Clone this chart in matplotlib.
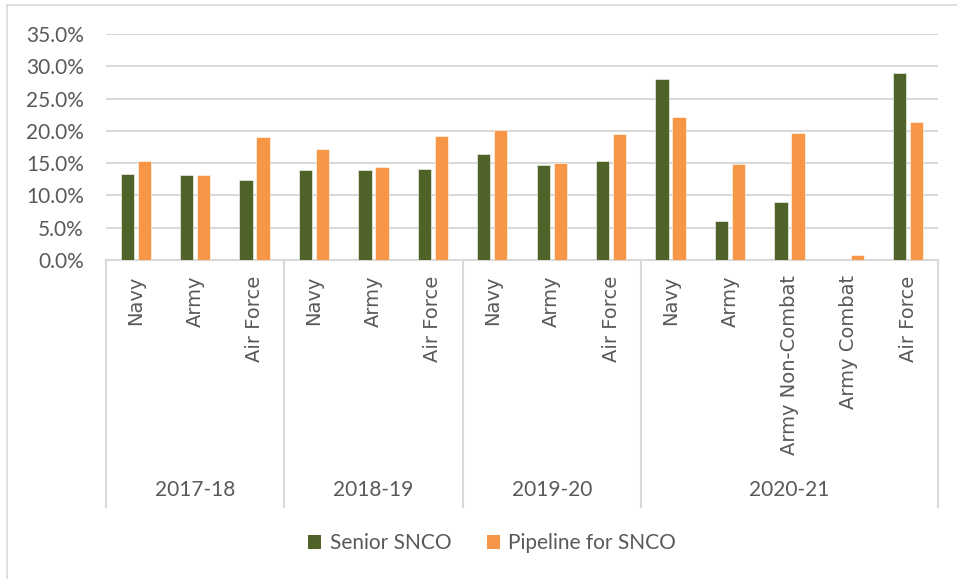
import matplotlib
matplotlib.use("Agg")
import matplotlib.pyplot as plt
from matplotlib.ticker import PercentFormatter, MultipleLocator
from matplotlib.patches import Patch
from matplotlib.lines import Line2D
import matplotlib.transforms as mtrans

years = ["2017-18", "2018-19", "2019-20", "2020-21"]
categories = [
    ["Navy", "Army", "Air Force"],
    ["Navy", "Army", "Air Force"],
    ["Navy", "Army", "Air Force"],
    ["Navy", "Army", "Army Non-Combat", "Army Combat", "Air Force"],
]
senior_snco = [13.3, 13.1, 12.4, 14.0, 14.0, 14.1, 16.4, 14.7, 15.3,
               28.0, 6.0, 9.0, 0.0, 29.0]
pipeline_snco = [15.4, 13.1, 19.0, 17.2, 14.4, 19.2, 20.1, 15.0, 19.5,
                 22.1, 14.9, 19.7, 0.8, 21.4]
series_names = ["Senior SNCO", "Pipeline for SNCO"]

GREEN = "#4F6228"
ORANGE = "#F79646"
GRID = "#D9D9D9"
TXT = "#595959"

W, H = 957, 579
fig = plt.figure(figsize=(W / 100, H / 100), dpi=100)
ax = fig.add_axes([106 / W, 1 - 260 / H, (938 - 106) / W, (260 - 34) / H])

labels = [c for grp in categories for c in grp]
n = len(labels)
x = [i + 0.5 for i in range(n)]
bw = 0.225
off = 0.143
ax.bar([v - off for v in x], senior_snco, width=bw, color=GREEN,
       edgecolor="white", linewidth=0.4, zorder=3)
ax.bar([v + off for v in x], pipeline_snco, width=bw, color=ORANGE,
       edgecolor="white", linewidth=0.4, zorder=3)

ax.set_xlim(0, n)
ax.set_ylim(0, 35)
ax.yaxis.set_major_locator(MultipleLocator(5))
ax.yaxis.set_major_formatter(PercentFormatter(decimals=1))
ax.grid(axis="y", color=GRID, linewidth=1.5, zorder=0)
for s in ["top", "right", "left"]:
    ax.spines[s].set_visible(False)
ax.spines["bottom"].set_color(GRID)
ax.spines["bottom"].set_linewidth(1.5)
ax.tick_params(axis="y", length=0, pad=16, labelsize=15, labelcolor=TXT)
for t in ax.get_yticklabels():
    t.set_fontfamily("Lato")
ax.set_xticks(x)
ax.set_xticklabels(labels, rotation=90, fontsize=14, color=TXT,
                   fontfamily="DejaVu Sans")
ax.tick_params(axis="x", length=0, pad=11)

trans = mtrans.blended_transform_factory(ax.transData, ax.transAxes)
axes_h = 260 - 34
bottom_y = -(507 - 260) / axes_h
year_y = -(490 - 260) / axes_h
start = 0
bounds = [0]
for grp in categories:
    start += len(grp)
    bounds.append(start)
for b in bounds:
    ax.add_line(Line2D([b, b], [0, bottom_y], transform=trans, color=GRID,
                       linewidth=1.5, clip_on=False))
for k, yr in enumerate(years):
    cx = (bounds[k] + bounds[k + 1]) / 2
    ax.text(cx, year_y, yr, transform=trans, ha="center", va="center",
            fontsize=15, color=TXT, fontfamily="Lato")

handles = [Patch(facecolor=GREEN, edgecolor="none"),
           Patch(facecolor=ORANGE, edgecolor="none")]
leg = fig.legend(handles, series_names, loc="center",
                 bbox_to_anchor=(492 / W, 1 - 543 / H), ncol=2, frameon=False,
                 prop={"family": "Lato", "size": 15}, handlelength=0.65,
                 handleheight=0.65, handletextpad=0.4, columnspacing=1.7)
for t in leg.get_texts():
    t.set_color(TXT)

# outer chart border
fig.add_artist(Line2D([7 / W, 7 / W], [0, 1 - 5 / H], transform=fig.transFigure,
                      color=GRID, linewidth=1.2))
fig.add_artist(Line2D([7 / W, 1], [1 - 5 / H, 1 - 5 / H], transform=fig.transFigure,
                      color=GRID, linewidth=1.2))

fig.savefig("out.png", dpi=100)
